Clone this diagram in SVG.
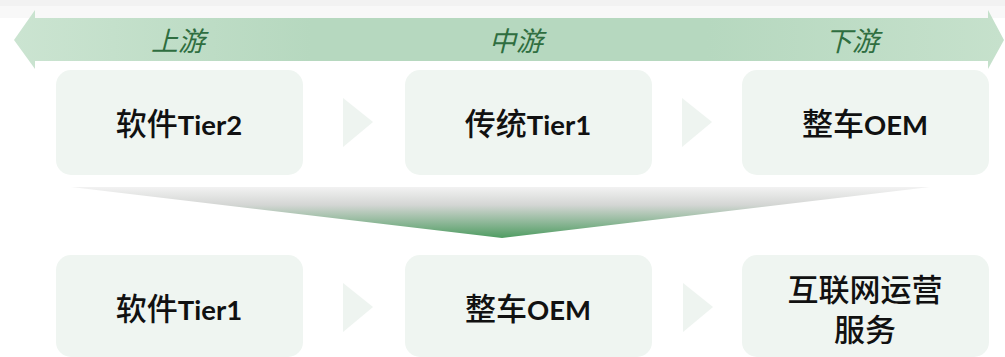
<svg xmlns="http://www.w3.org/2000/svg" width="1005" height="357" viewBox="0 0 1005 357">
<defs>
<linearGradient id="band" x1="0" y1="0" x2="1" y2="0">
<stop offset="0" stop-color="#cbe4d1"/>
<stop offset="0.3" stop-color="#b6d8bf"/>
<stop offset="0.7" stop-color="#b6d8bf"/>
<stop offset="1" stop-color="#c6e1cc"/>
</linearGradient>
<linearGradient id="funnel" x1="0" y1="0" x2="0" y2="1">
<stop offset="0" stop-color="#f2f2f2"/>
<stop offset="0.35" stop-color="#d4d6d4"/>
<stop offset="1" stop-color="#4f9c62"/>
</linearGradient>
<style>
.box{fill:#eff5f1}
.tri{fill:#eef4f0}
.lbl{font-family:"Noto Sans CJK SC",sans-serif;font-style:italic;font-size:27px;fill:#2f6e40;text-anchor:middle}
.t{font-family:"Noto Sans CJK SC",sans-serif;font-weight:500;font-size:31px;fill:#111;text-anchor:middle}
.t2{font-family:"Noto Sans CJK SC",sans-serif;font-weight:500;font-size:31px;fill:#111;text-anchor:middle}
.l{font-family:"Lato",sans-serif;font-weight:bold;font-size:27.5px}
</style>
</defs>
<rect x="0" y="0" width="1005" height="6" fill="#f2f2f2"/>
<rect x="0" y="6" width="1005" height="12" fill="#f8f8f8"/>
<g id="timeline">
<polygon points="14,40 35,10 35,18 988,18 988,10 1004,40 988,69 988,61 35,61 35,69" fill="url(#band)"/>
<text class="lbl" x="178" y="51">上游</text>
<text class="lbl" x="516" y="51">中游</text>
<text class="lbl" x="852" y="51">下游</text>
</g>
<g id="connectors">
<polygon class="tri" points="343,98 373,122 343,147"/>
<polygon class="tri" points="682,98 712,122 682,147"/>
<polygon points="71,187 930,187 502,238" fill="url(#funnel)"/>
<polygon class="tri" points="343,283 373,307 343,332"/>
<polygon class="tri" points="683,283 713,307 683,332"/>
</g>
<g id="n1"><rect class="box" x="56" y="70" width="247" height="105" rx="15"/><text class="t" x="179" y="135">软件<tspan class="l">Tier2</tspan></text></g>
<g id="n2"><rect class="box" x="405" y="70" width="247" height="105" rx="15"/><text class="t" x="528" y="135">传统<tspan class="l">Tier1</tspan></text></g>
<g id="n3"><rect class="box" x="742" y="70" width="247" height="105" rx="15"/><text class="t" x="865" y="135">整车<tspan class="l">OEM</tspan></text></g>
<g id="n4"><rect class="box" x="56" y="255" width="247" height="102" rx="15"/><text class="t" x="179" y="320">软件<tspan class="l">Tier1</tspan></text></g>
<g id="n5"><rect class="box" x="405" y="255" width="247" height="102" rx="15"/><text class="t" x="528" y="320">整车<tspan class="l">OEM</tspan></text></g>
<g id="n6"><rect class="box" x="742" y="255" width="247" height="102" rx="15"/><text class="t2" x="865" y="301">互联网运营</text><text class="t2" x="865" y="341">服务</text></g>
</svg>
